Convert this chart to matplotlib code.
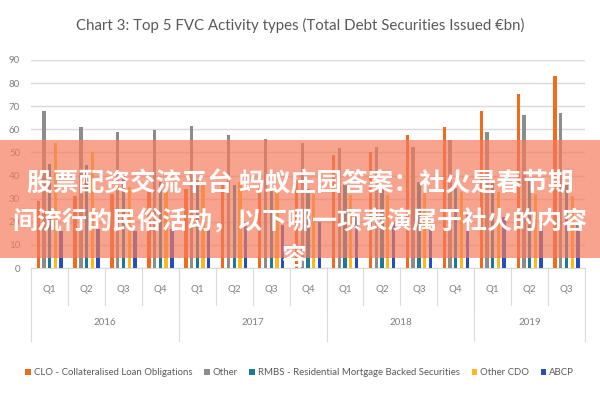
import matplotlib
matplotlib.use('Agg')
import matplotlib.pyplot as plt
import numpy as np

# quarters 2016 Q1 .. 2019 Q3
quarters = ['Q1', 'Q2', 'Q3', 'Q4'] * 3 + ['Q1', 'Q2', 'Q3']
years = ['2016', '2017', '2018', '2019']
year_len = [4, 4, 4, 3]

clo = [29, 31, 32, 33, 34, 36, 35, 38, 49, 50, 57.5, 61, 68, 75.5, 83]
other = [68, 61, 59, 59.5, 61.5, 57.5, 56, 54, 52, 52.5, 52.5, 55.5, 59, 66, 67]
rmbs = [45, 44.5, 40, 37, 38, 36, 37, 34, 36, 36, 37, 34.5, 37, 38, 36]
other_cdo = [54, 50, 35, 33, 36, 37, 34.5, 32, 31.5, 31.5, 33, 33, 33, 32, 31]
abcp = [16, 17, 16, 17, 18, 20, 18.5, 20, 22, 20, 16.5, 24, 22, 20, 18.6]

series = [
    ('CLO - Collateralised Loan Obligations', clo, '#F26B1D'),
    ('Other', other, '#8C8C8C'),
    ('RMBS - Residential Mortgage Backed Securities', rmbs, '#1B7A9C'),
    ('Other CDO', other_cdo, '#FFB81C'),
    ('ABCP', abcp, '#2150C0'),
]

banner = ['股票配资交流平台 蚂蚁庄园答案：社火是春节期',
          '间流行的民俗活动，以下哪一项表演属于社火的内容',
          '容']

plt.rcParams['font.family'] = ['Lato', 'DejaVu Sans']

fig = plt.figure(figsize=(6, 4), dpi=100)
ax = fig.add_axes([0.052, 0.33, 0.923, 0.52])

x = np.arange(len(quarters))
step = 0.155
for i, (name, vals, col) in enumerate(series):
    ax.bar(x + (i - 2) * step, vals, width=0.09, color=col, label=name, zorder=3)

ax.set_xlim(-0.5, len(quarters) - 0.5)
ax.set_ylim(0, 90)
ax.set_yticks(range(0, 91, 10))
ax.tick_params(axis='y', length=0, labelsize=7, labelcolor='#7f7f7f', pad=8)
ax.set_xticks([])
ax.grid(axis='y', color='#d9d9d9', linewidth=1, zorder=0)
for s in ['top', 'right', 'left']:
    ax.spines[s].set_visible(False)
ax.spines['bottom'].set_color('#d9d9d9')

# two level category axis
tr = ax.get_xaxis_transform()
for i, q in enumerate(quarters):
    ax.text(i, -0.105, q, transform=tr, ha='center', va='center', fontsize=7, color='#7f7f7f')
for b in np.arange(0.5, len(quarters) - 1, 1.0):
    ax.plot([b, b], [0, -0.18], transform=tr, color='#d9d9d9', lw=0.8, clip_on=False)
start = 0
bounds = [-0.5]
for y, n in zip(years, year_len):
    ax.text(start + (n - 1) / 2, -0.26, y, transform=tr, ha='center', va='center',
            fontsize=7, color='#7f7f7f')
    start += n
    bounds.append(start - 0.5)
for b in bounds:
    ax.plot([b, b], [0, -0.35], transform=tr, color='#d9d9d9', lw=0.8, clip_on=False)

fig.text(0.5, 0.937, 'Chart 3: Top 5 FVC Activity types (Total Debt Securities Issued \u20acbn)',
         ha='center', va='center', fontsize=10.8, color='#595959')

leg = ax.legend(loc='upper center', bbox_to_anchor=(0.485, -0.44), ncol=5, frameon=False,
                fontsize=6.9, handlelength=0.6, handleheight=0.6, handletextpad=0.3,
                columnspacing=1.2, labelcolor='#595959')

# overlay banner
fig.patches.append(plt.Rectangle((0, 1 - 258 / 400), 1, 118 / 400, transform=fig.transFigure,
                                 color='#F47C5E', alpha=0.7, zorder=10, lw=0))
cjk = ['Noto Sans CJK SC', 'DejaVu Sans']
fig.text(0.5, 1 - 184 / 400, banner[0], ha='center', va='center', fontsize=18.5,
         fontweight='bold', color='white', family=cjk, zorder=11)
fig.text(0.5, 1 - 222 / 400, banner[1], ha='center', va='center', fontsize=18,
         fontweight='bold', color='white', family=cjk, zorder=11)
fig.text(0.49, 1 - 258 / 400, banner[2], ha='center', va='center', fontsize=18,
         fontweight='bold', color='white', family=cjk, zorder=11)

fig.savefig('out.png', dpi=100)
